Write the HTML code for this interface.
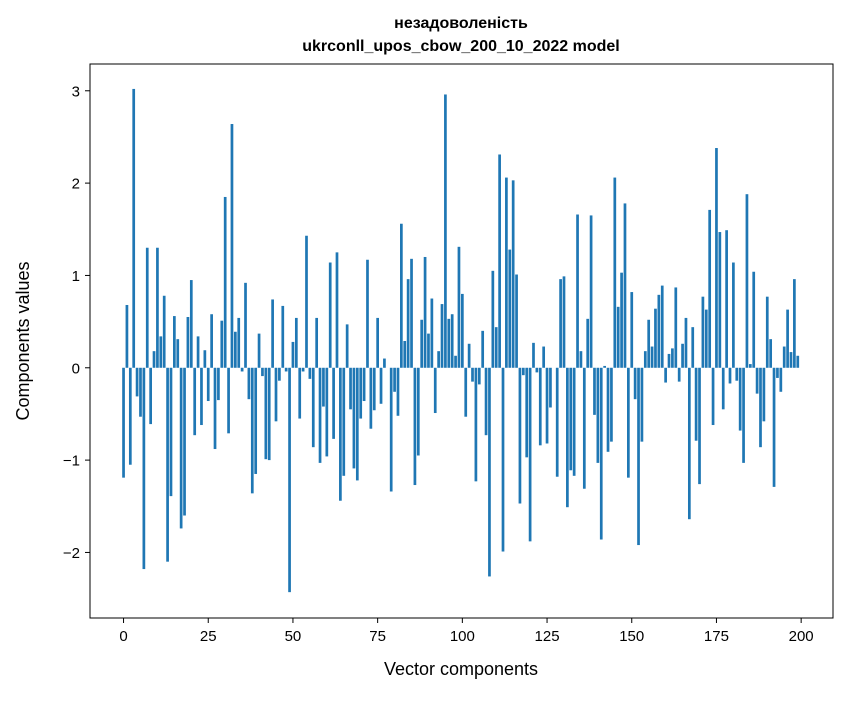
<!DOCTYPE html>
<html><head><meta charset="utf-8"><style>
body{margin:0;background:#fff;}
svg text{font-family:"Liberation Sans","DejaVu Sans",sans-serif;fill:#000;}
</style></head><body>
<svg id="chart" width="847" height="696" viewBox="0 0 847 696" xmlns="http://www.w3.org/2000/svg">
<rect width="847" height="696" fill="#fff"/>
<text x="461" y="28" font-size="16" font-weight="bold" text-anchor="middle">незадоволеність</text>
<text x="461" y="51" font-size="16" font-weight="bold" text-anchor="middle">ukrconll_upos_cbow_200_10_2022 model</text>
<g id="bars"></g>
<g id="axes"></g>
<rect x="90" y="64" width="743" height="554" fill="none" stroke="#000" stroke-width="1"/>
<text x="461" y="675" font-size="18" text-anchor="middle">Vector components</text>
<text transform="translate(29,341) rotate(-90)" font-size="18" text-anchor="middle">Components values</text>
</svg>
<script>
const values = [
-1.19,0.68,-1.05,3.02,-0.31,-0.53,-2.18,1.30,-0.61,0.18,
1.30,0.34,0.78,-2.10,-1.39,0.56,0.31,-1.74,-1.60,0.55,
0.95,-0.73,0.34,-0.62,0.19,-0.36,0.58,-0.88,-0.35,0.51,
1.85,-0.71,2.64,0.39,0.54,-0.04,0.92,-0.34,-1.36,-1.15,
0.37,-0.09,-0.99,-1.00,0.74,-0.58,-0.14,0.67,-0.04,-2.43,
0.28,0.54,-0.55,-0.04,1.43,-0.12,-0.86,0.54,-1.03,-0.42,
-0.96,1.14,-0.77,1.25,-1.44,-1.17,0.47,-0.45,-1.09,-1.22,
-0.55,-0.36,1.17,-0.66,-0.46,0.54,-0.39,0.10,0.0,-1.34,
-0.26,-0.52,1.56,0.29,0.96,1.18,-1.27,-0.95,0.52,1.20,
0.37,0.75,-0.49,0.18,0.69,2.96,0.53,0.58,0.13,1.31,
0.80,-0.53,0.26,-0.15,-1.23,-0.18,0.40,-0.73,-2.26,1.05,
0.44,2.31,-1.99,2.06,1.28,2.03,1.01,-1.47,-0.08,-0.97,
-1.88,0.27,-0.05,-0.84,0.23,-0.82,-0.43,0.0,-1.18,0.96,
0.99,-1.51,-1.11,-1.17,1.66,0.18,-1.31,0.53,1.65,-0.51,
-1.03,-1.86,0.02,-0.91,-0.80,2.06,0.66,1.03,1.78,-1.19,
0.82,-0.34,-1.92,-0.80,0.18,0.52,0.23,0.64,0.79,0.89,
-0.16,0.15,0.21,0.87,-0.15,0.26,0.54,-1.64,0.44,-0.79,
-1.26,0.77,0.63,1.71,-0.62,2.38,1.47,-0.45,1.49,-0.17,
1.14,-0.14,-0.68,-1.03,1.88,0.04,1.04,-0.28,-0.86,-0.58,
0.77,0.31,-1.29,-0.11,-0.26,0.23,0.63,0.17,0.96,0.13
];
const xTicks = [0,25,50,75,100,125,150,175,200];
const yTicks = [-2,-1,0,1,2,3];
const L=90,R=833,T=64,B=618, xmin=-9.9,xmax=209.4, ymin=-2.71, ymax=3.29;
const sx=v=>L+(v-xmin)/(xmax-xmin)*(R-L);
const sy=v=>T+(ymax-v)/(ymax-ymin)*(B-T);
const NS="http://www.w3.org/2000/svg";
const bars=document.getElementById('bars');
values.forEach((v,i)=>{
  const r=document.createElementNS(NS,'rect');
  const x0=sx(i-0.4), x1=sx(i+0.4);
  const y0=sy(Math.max(v,0)), y1=sy(Math.min(v,0));
  r.setAttribute('x',x0); r.setAttribute('width',x1-x0);
  r.setAttribute('y',y0); r.setAttribute('height',Math.max(y1-y0,0.01));
  r.setAttribute('fill','#1f77b4');
  
  
  bars.appendChild(r);
});
const axes=document.getElementById('axes');
xTicks.forEach(t=>{
  const x=sx(t);
  const l=document.createElementNS(NS,'line');
  l.setAttribute('x1',x);l.setAttribute('x2',x);l.setAttribute('y1',B);l.setAttribute('y2',B+5);
  l.setAttribute('stroke','#000');
  
  
  axes.appendChild(l);
  const tx=document.createElementNS(NS,'text');
  tx.setAttribute('x',x);tx.setAttribute('y',B+23);tx.setAttribute('font-size','15');tx.setAttribute('text-anchor','middle');
  tx.textContent=t;
  
  
  axes.appendChild(tx);
});
yTicks.forEach(t=>{
  const y=sy(t);
  const l=document.createElementNS(NS,'line');
  l.setAttribute('x1',L-5);l.setAttribute('x2',L);l.setAttribute('y1',y);l.setAttribute('y2',y);
  l.setAttribute('stroke','#000');
  
  
  axes.appendChild(l);
  const tx=document.createElementNS(NS,'text');
  tx.setAttribute('x',L-10);tx.setAttribute('y',y+5.5);tx.setAttribute('font-size','15');tx.setAttribute('text-anchor','end');
  tx.textContent=(t<0?'\u2212'+(-t):String(t));
  
  
  axes.appendChild(tx);
});
</script>
</body></html>
